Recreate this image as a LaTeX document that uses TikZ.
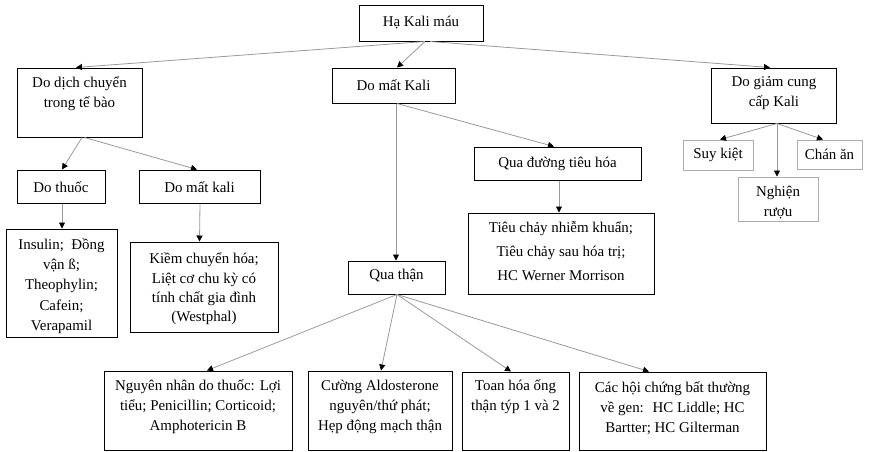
\documentclass[tikz,border=0pt]{standalone}
\usepackage{fontspec}
\setmainfont{Liberation Serif}
\usetikzlibrary{arrows.meta,calc,fit}
\tikzset{
  box/.style={draw=black, line width=0.75pt, inner sep=0pt, rectangle},
  lightbox/.style={draw=gray!65, line width=0.75pt, inner sep=0pt, rectangle},
  txt/.style={align=center, inner sep=0pt, font=\fontsize{11.2}{15}\selectfont},
  conn/.style={draw=gray!80, line width=0.6pt, -{Triangle[length=4.5pt,width=4.5pt,color=black]}},
}
\newcommand{\bx}[6][box]{\node[#1, fit={(#3,#4) (#5,#6)}] (#2) {};}
\begin{document}
\begin{tikzpicture}[x=0.75pt, y=-0.75pt]
\fill[white] (0,0) rectangle (871,451);
\useasboundingbox (0,0) rectangle (871,451);
% boxes
\bx{top}{359}{5}{483}{41}
\bx{dich}{17}{68}{142}{137}
\bx{mat}{332}{68}{455}{103}
\bx{giam}{711}{68}{836}{123}
\bx{thuoc}{17}{170}{105}{203}
\bx{matk}{139}{170}{260}{203}
\bx{ins}{6}{229}{117}{337}
\bx{kiem}{130}{242}{278}{332}
\bx{than}{348}{261}{445}{294}
\bx{tieuhoa}{474}{147}{641}{180}
\bx{tieuchay}{468}{213}{654}{294}
\bx[lightbox]{suy}{683}{140}{753}{170}
\bx[lightbox]{chan}{797}{140}{862}{169}
\bx[lightbox]{nghien}{738}{177}{818}{221}
\bx{nn}{104}{371}{292}{450}
\bx{cuong}{308}{371}{452}{450}
\bx{toan}{462}{372}{569}{450}
\bx{cac}{579}{372}{766}{450}
% texts
\node[txt] (topT) at (421,23) {Hạ Kali máu};
\node[txt] (dichT) at (79.5,93.5) {Do dịch chuyển\\trong tế bào};
\node[txt] (matT) at (393.5,85.5) {Do mất Kali};
\node[txt] (giamT) at (774,93) {Do giảm cung\\cấp Kali};
\node[txt] (thuocT) at (61,187) {Do thuốc};
\node[txt] (matkT) at (199.5,187) {Do mất kali};
\node[txt, font=\fontsize{11.2}{15.3}\selectfont] (insT) at (61.5,286) {Insulin; \ Đồng\\vận ß;\\Theophylin;\\Cafein;\\Verapamil};
\node[txt, font=\fontsize{11.2}{14.5}\selectfont] (kiemT) at (204,289) {Kiềm chuyển hóa;\\Liệt cơ chu kỳ có\\tính chất gia đình\\(Westphal)};
\node[txt] (thanT) at (396.5,276) {Qua thận};
\node[txt] (tieuhoaT) at (557.5,163.5) {Qua đường tiêu hóa};
\node[txt, font=\fontsize{11.2}{18}\selectfont] (tieuchayT) at (561,251) {Tiêu chảy nhiễm khuẩn;\\Tiêu chảy sau hóa trị;\\HC Werner Morrison};
\node[txt] (suyT) at (718,155) {Suy kiệt};
\node[txt] (chanT) at (829.5,154.5) {Chán ăn};
\node[txt] (nghienT) at (778,203) {Nghiện\\rượu};
\node[txt] (nnT) at (198,407) {Nguyên nhân do thuốc: Lợi\\tiểu; Penicillin; Corticoid;\\Amphotericin B};
\node[txt] (cuongT) at (380,407) {Cường Aldosterone\\nguyên/thứ phát;\\Hẹp động mạch thận};
\node[txt] (toanT) at (515.5,397) {Toan hóa ống\\thận týp 1 và 2};
\node[txt] (cacT) at (672.5,408) {Các hội chứng bất thường\\về gen: \ HC Liddle; HC\\Bartter; HC Gilterman};
% connectors
\draw[conn] ($(top.south)+(4,0)$) -- ($(dich.north)+(-3.5,0)$);
\draw[conn] ($(top.south)+(4,0)$) -- ($(mat.north)+(3.5,0)$);
\draw[conn] ($(top.south)+(9,0)$) -- ($(giam.north)+(-3.5,0)$);
\draw[conn] ($(dich.south)+(2.5,0)$) -- ($(thuoc.north)+(1,0)$);
\draw[conn] ($(dich.south)+(5,0)$) -- ($(matk.north)+(-2.5,0)$);
\draw[conn] ($(thuoc.south)+(1,0)$) -- ($(ins.north)+(0.5,0)$);
\draw[conn] ($(matk.south)+(0.5,0)$) -- (matk.south |- kiem.north);
\draw[conn] ($(mat.south)+(2.5,0)$) -- ($(than.north)+(-0.5,0)$);
\draw[conn] ($(mat.south)+(3.5,0)$) -- ($(tieuhoa.north)+(-3.5,0)$);
\draw[conn] ($(tieuhoa.south)+(1.5,0)$) -- ($(tieuchay.north)+(-2,0)$);
\draw[conn] ($(giam.south)+(3.5,0)$) -- ($(suy.north)+(2,0)$);
\draw[conn] ($(giam.south)+(3.5,0)$) -- ($(chan.north)+(-6.5,0)$);
\draw[conn] ($(giam.south)+(3.5,0)$) -- ($(nghien.north)+(-1,0)$);
\draw[conn] ($(than.south)+(0.5,0)$) -- ($(nn.north)+(9,0)$);
\draw[conn] ($(than.south)+(0.5,0)$) -- ($(cuong.north)+(1,0)$);
\draw[conn] ($(than.south)+(0.5,0)$) -- ($(toan.north)+(-4.5,0)$);
\draw[conn] ($(than.south)+(0.5,0)$) -- ($(cac.north)+(-23.5,0)$);
\end{tikzpicture}
\end{document}
